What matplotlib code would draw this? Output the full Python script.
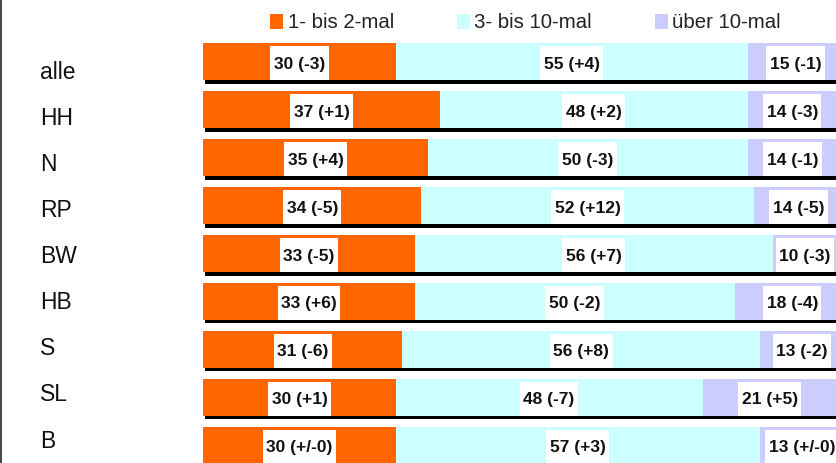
import matplotlib
matplotlib.use("Agg")
import matplotlib.pyplot as plt
from matplotlib.patches import Rectangle
from matplotlib.lines import Line2D

# Survey results per region: share (%) and change vs. previous survey
categories = ["alle", "HH", "N", "RP", "BW", "HB", "S", "SL", "B"]
selten = [30, 37, 35, 34, 33, 33, 31, 30, 30]
selten_diff = ["-3", "+1", "+4", "-5", "-5", "+6", "-6", "+1", "+/-0"]
mittel = [55, 48, 50, 52, 56, 50, 56, 48, 57]
mittel_diff = ["+4", "+2", "-3", "+12", "+7", "-2", "+8", "-7", "+3"]
oft = [15, 14, 14, 14, 10, 18, 13, 21, 13]
oft_diff = ["-1", "-3", "-1", "-5", "-3", "-4", "-2", "+5", "+/-0"]
series_names = ["1- bis 2-mal", "3- bis 10-mal", "über 10-mal"]
colors = ["#FF6600", "#CCFFFF", "#CCCCFF"]

plt.rcParams['font.family'] = ['Liberation Sans', 'DejaVu Sans']

W, H = 837, 463
fig = plt.figure(figsize=(W / 100, H / 100), dpi=100)

# layout in pixels
x0 = 203.5          # left edge of the bars
scale = 6.4         # pixels per percent
pitch = 47.95       # vertical distance between bars
c0 = 61.5           # centre of the first bar from the top
bar_px = 37         # bar thickness
shadow_px = 3.7     # dark strip under each bar

ax = fig.add_axes([x0 / W, 0, 100 * scale / W, 1])
ax.set_xlim(0, 100)
ax.set_ylim((H - c0) / pitch, -c0 / pitch)
ax.axis('off')

ypos = list(range(len(categories)))
bar_h = bar_px / pitch

# shadow strip
ax.barh([y + shadow_px / pitch for y in ypos], [101] * len(ypos), left=0.3,
        height=bar_h, color="black", linewidth=0, zorder=1)

series = [(selten, selten_diff), (mittel, mittel_diff), (oft, oft_diff)]
lefts = [0] * len(categories)
texts = []
for (vals, diffs), col in zip(series, colors):
    ax.barh(ypos, vals, left=lefts, height=bar_h, color=col, linewidth=0, zorder=2)
    for y, l, v, d in zip(ypos, lefts, vals, diffs):
        t = ax.text(l + v / 2, y + 7.2 / pitch, f"{v} ({d})", ha="center",
                    va="baseline", fontsize=12.5, fontweight="bold",
                    color="#111111", zorder=4)
        texts.append((t, y))
    lefts = [a + b for a, b in zip(lefts, vals)]

# white boxes behind the value labels
fig.canvas.draw()
renderer = fig.canvas.get_renderer()
for t, y in texts:
    bb = t.get_window_extent(renderer)
    pad = 3.5
    xa = ax.transData.inverted().transform((bb.x0 - pad, 0))[0]
    xb = ax.transData.inverted().transform((bb.x1 + pad, 0))[0]
    ytop = y - bar_h / 2 + 3 / pitch
    ax.add_patch(Rectangle((xa, ytop), xb - xa, (bar_px - 3) / pitch,
                           facecolor="white", edgecolor="none", zorder=3))

# category labels
for i, cat in enumerate(categories):
    fig.text(40 / W, 1 - (78.7 + 46.1 * i) / H, cat, fontsize=16.5,
             ha="left", va="baseline", color="#111111")

# legend
leg_sq_x = [270, 456.7, 655]
leg_tx_x = [288, 474, 672]
for name, col, sx, tx in zip(series_names, colors, leg_sq_x, leg_tx_x):
    fig.patches.append(Rectangle((sx / W, 1 - 28.7 / H), 13 / W, 14.5 / H,
                                 transform=fig.transFigure, facecolor=col,
                                 edgecolor="none"))
    fig.text(tx / W, 1 - 27.5 / H, name, fontsize=14.7, ha="left",
             va="baseline", color="#222222")

# left frame line
fig.lines.append(Line2D([1 / W, 1 / W], [0, 1], transform=fig.transFigure,
                        color="#444444", linewidth=1.4))

fig.savefig("out.png", dpi=100)
